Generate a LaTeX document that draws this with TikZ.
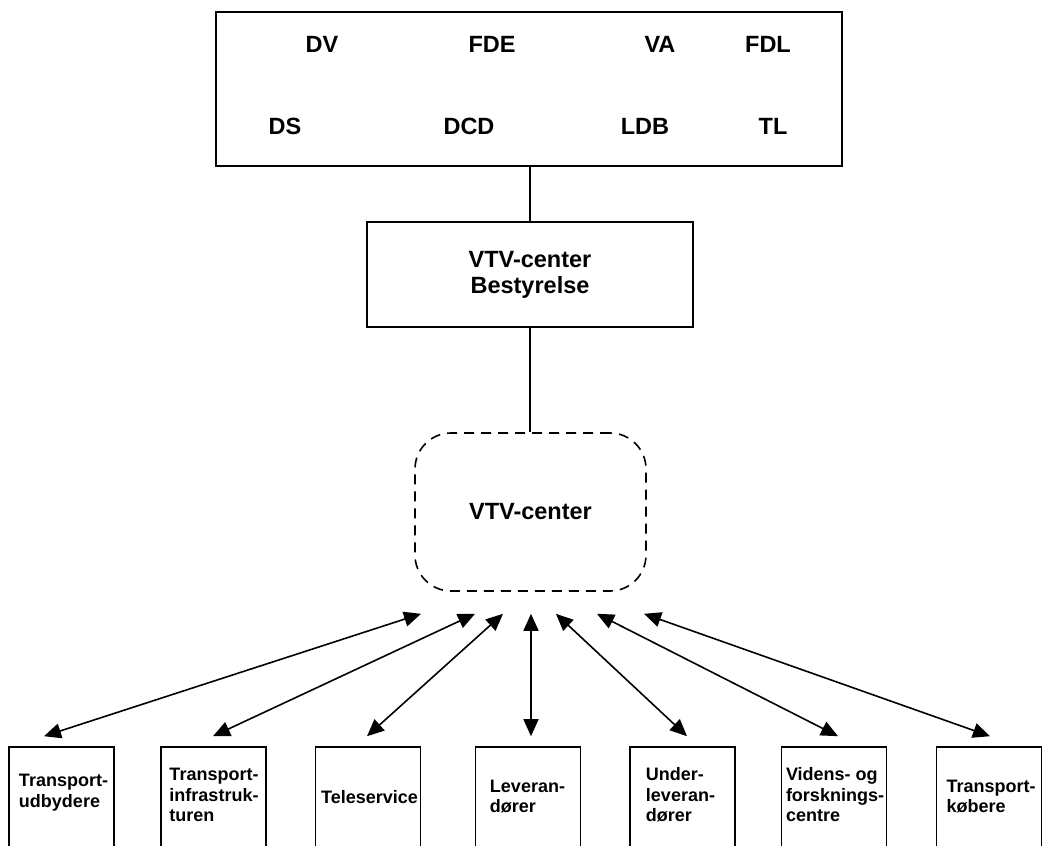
\documentclass[tikz,border=0pt]{standalone}
\usepackage{fontspec}
\setmainfont{Liberation Sans}
\usetikzlibrary{arrows.meta,calc}
\begin{document}
\begin{tikzpicture}[x=1pt,y=-1pt,
  box/.style={draw,line width=1.6pt,rectangle,inner sep=0pt},
  lab/.style={font=\bfseries\fontsize{23.5}{26}\selectfont,inner sep=0pt},
  small/.style={font=\bfseries\fontsize{18}{20.5}\selectfont,align=left,inner sep=0pt},
  bbox/.style={box,minimum width=105pt,minimum height=105pt},
  link/.style={line width=1.6pt},
  dblarrow/.style={line width=1.6pt,{Triangle[length=17pt,width=15pt]}-{Triangle[length=17pt,width=15pt]}},
]
\useasboundingbox (0,0) rectangle (1042,846);
% top box with member labels
\node[box,minimum width=626pt,minimum height=154pt] (top) at (529,89) {};
\node[lab] (dv)  at (322,44) {DV};
\node[lab] (fde) at (492,44) {FDE};
\node[lab] (va)  at (660,44) {VA};
\node[lab] (fdl) at (768,44) {FDL};
\node[lab] (ds)  at (285,126) {DS};
\node[lab] (dcd) at (469,126) {DCD};
\node[lab] (ldb) at (645,126) {LDB};
\node[lab] (tl)  at (773,126) {TL};
% board
\node[box,lab,align=center,minimum width=326pt,minimum height=105pt] (board) at (530,274.5) {VTV-center\\Bestyrelse};
% dashed centre
\node[draw,line width=1.6pt,dash pattern=on 10pt off 7pt,rounded corners=36pt,minimum width=231pt,minimum height=158pt,lab] (vc) at (530.5,512) {VTV-center};
\draw[link] (top.south -| board.north) -- (board.north);
\draw[link] (board.south) -- (vc.north -| board.south);
% bottom boxes
\node[bbox] (b1) at (61.5,799.5) {};
\node[bbox] (b2) at (213.5,799.5) {};
\node[bbox] (b3) at (368,799.5) {};
\node[bbox] (b4) at (528,799.5) {};
\node[bbox] (b5) at (682.5,799.5) {};
\node[bbox] (b6) at (834,799.5) {};
\node[bbox] (b7) at (989,799.5) {};
\node[small] (t1) at (63.5,792.5) {Transport-\\udbydere};
\node[small] (t2) at (214,795) {Transport-\\infrastruk-\\turen};
\node[small] (t3) at (369.5,797) {Teleservice};
\node[small] (t4) at (527.5,796.5) {Leveran-\\dører};
\node[small] (t5) at (680.5,795) {Under-\\leveran-\\dører};
\node[small] (t6) at (835,795) {Videns- og\\forsknings-\\centre};
\node[small] (t7) at (991,796.5) {Transport-\\købere};
% arrow ends
\coordinate (a1) at ([xshift=-109.5pt,yshift=-22pt]vc.south);
\coordinate (a2) at ([xshift=-55.5pt,yshift=-22pt]vc.south);
\coordinate (a3) at ([xshift=-27.5pt,yshift=-22pt]vc.south);
\coordinate (a4) at ([xshift=0.5pt,yshift=-22pt]vc.south);
\coordinate (a5) at ([xshift=25.5pt,yshift=-22pt]vc.south);
\coordinate (a6) at ([xshift=66.5pt,yshift=-22pt]vc.south);
\coordinate (a7) at ([xshift=113.5pt,yshift=-22pt]vc.south);
\coordinate (e1) at ([xshift=-17.5pt,yshift=10pt]b1.north);
\coordinate (e2) at ([xshift=-0.5pt,yshift=10pt]b2.north);
\coordinate (e3) at ([xshift=-1pt,yshift=10pt]b3.north);
\coordinate (e4) at ([xshift=3pt,yshift=10pt]b4.north);
\coordinate (e5) at ([xshift=4.5pt,yshift=10pt]b5.north);
\coordinate (e6) at ([xshift=4pt,yshift=10pt]b6.north);
\coordinate (e7) at ([xshift=1pt,yshift=10pt]b7.north);
\foreach \i in {1,...,7}{\draw[dblarrow] (a\i) -- (e\i);}
\end{tikzpicture}
\end{document}
